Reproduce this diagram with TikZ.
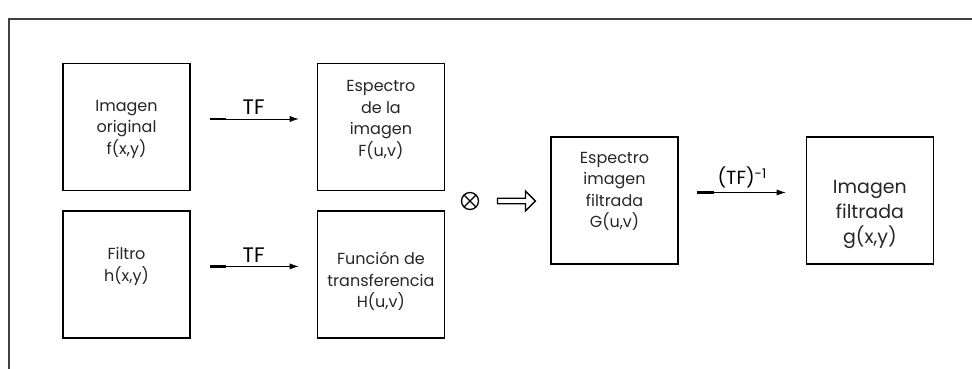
\documentclass[tikz,border=0pt]{standalone}
\usepackage{fontspec}
\setmainfont{Poppins}
\usepackage{amsmath}
\usetikzlibrary{arrows.meta,positioning,shapes.arrows}

\begin{document}
\begin{tikzpicture}[x=1pt,y=-1pt,>={Latex[length=9pt,width=6pt]},line join=miter,
  caja/.style={draw,line width=1.4pt,minimum size=127pt,inner sep=0pt},
  texto/.style={align=center,inner sep=0pt,text=black!85,font=\fontsize{16}{21.5}\selectfont},
  flecha/.style={->,line width=0.7pt},
  inicio/.style={line width=2.2pt},
  etiq/.style={above,inner sep=4pt,font=\fontsize{21}{22}\selectfont}]
\useasboundingbox (0,0) rectangle (972,369);
\draw[line width=1.6pt,black!75] (9,369) -- (9,19) -- (972,19);

\node[caja,label={[texto,yshift=-2pt]center:{Imagen\\original\\f(x,y)}}] at (126.5,127) (orig) {};
\node[caja,right=126pt of orig,label={[texto,yshift=7pt]center:{Espectro\\de la\\imagen\\F(u,v)}}] (espec) {};
\node[caja,below=19pt of orig,label={[texto,yshift=8pt]center:{Filtro\\h(x,y)}}] (filtro) {};
\node[caja,below=19pt of espec,label={[texto,yshift=-7pt]center:{Función de\\transferencia\\H(u,v)}}] (transf) {};
\node[caja,label={[texto,yshift=9pt]center:{Espectro\\imagen\\filtrada\\G(u,v)}}] at (614.5,200.5) (gesp) {};
\node[caja,right=127pt of gesp,label={[texto,font=\fontsize{19}{25}\selectfont,yshift=-14pt]center:{Imagen\\filtrada\\g(x,y)}}] (final) {};

\node[circle,draw,line width=1.3pt,minimum size=17pt,inner sep=0pt,
  path picture={\draw[line width=1.3pt] (path picture bounding box.north west) -- (path picture bounding box.south east)
    (path picture bounding box.north east) -- (path picture bounding box.south west);}] at (470,201) (prod) {};
\node[single arrow,draw,line width=1.3pt,minimum height=38pt,minimum width=20pt,single arrow head extend=5.5pt,inner sep=1.5pt] at (515,201) (impl) {};

\draw[flecha,shorten <=19pt,shorten >=18pt] ([yshift=8pt]orig.east) -- node[etiq] (tf1) {TF} ([yshift=8pt]espec.west);
\draw[flecha,shorten <=19pt,shorten >=18pt] ([yshift=8pt]filtro.east) -- node[etiq] (tf2) {TF} ([yshift=8pt]transf.west);
\draw[flecha,shorten <=18pt,shorten >=20pt] ([yshift=8pt]gesp.east) -- node[etiq,font=\fontsize{19}{20}\selectfont] (tfi) {(TF)\textsuperscript{-1}} ([yshift=8pt]final.west);

\draw[inicio] ([yshift=8pt]orig.east) ++(19,0) -- ++(16,0);
\draw[inicio] ([yshift=8pt]filtro.east) ++(19,0) -- ++(16,0);
\draw[inicio] ([yshift=8pt]gesp.east) ++(18,0) -- ++(17,0);
\end{tikzpicture}
\end{document}
